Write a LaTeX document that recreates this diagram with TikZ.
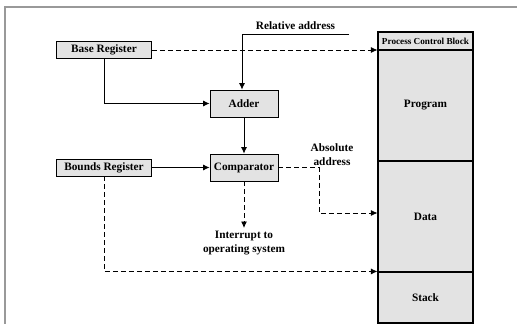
\documentclass[tikz,border=0pt]{standalone}
\usepackage{fontspec}
\setmainfont{Liberation Serif}
\usetikzlibrary{arrows.meta}
\begin{document}
\begin{tikzpicture}[x=1pt,y=-1pt,>={Latex[length=6.5pt,width=6pt]},font=\fontsize{11.3}{14}\selectfont\bfseries]
\tikzset{
  regbox/.style={draw,thick,fill=black!11,minimum width=95pt,minimum height=17pt,inner sep=0pt},
  unitbox/.style={draw,thick,fill=black!11,minimum width=68pt,minimum height=27pt,inner sep=0pt},
  pcbpart/.style={draw,line width=1.1pt,fill=black!11,minimum width=95pt,inner sep=0pt},
  dsh/.style={dash pattern=on 5pt off 3pt,thick},
  conn/.style={->,thick}
}
\useasboundingbox (0,0) rectangle (517,324);
\draw[black!40,line width=1.5pt] (5,324) -- (5,7) -- (517,7);
% registers and units
\node[regbox] (base) at (104,50) {Base Register};
\node[regbox] (bounds) at (104,167.5) {Bounds Register};
\node[unitbox] (adder) at (244,103.5) {Adder};
\node[unitbox] (comp) at (244,167.5) {Comparator};
% process control block
\node[pcbpart,minimum height=18pt,font=\fontsize{9.2}{11}\selectfont\bfseries] (pcb) at (425.5,41) {Process Control Block};
\node[pcbpart,minimum height=111pt] (program) at (425.5,105.5) {Program};
\node[pcbpart,minimum height=111pt] (data) at (425.5,216.5) {Data};
\node[pcbpart,minimum height=51pt] (stack) at (425.5,297.5) {Stack};
% labels
\coordinate (relend) at (349,34);
\coordinate (absbend) at (319,213);
\node[align=center] (abslbl) at (332,155) {Absolute\\address};
\node[align=center,anchor=north] (intr) at (244,228) {Interrupt to\\operating system};
% connectors
\draw[conn] (relend) -| node[pos=0.25,above=1pt]{Relative address} ([xshift=-2pt]adder.north);
\draw[conn] (base.south) |- (adder.west);
\draw[conn] (adder.south) -- (comp.north);
\draw[conn] (bounds.east) -- (comp.west);
\draw[dsh,->] (base.east) -- (base.east -| program.west);
\draw[dsh,->] (comp.east) -| (absbend) -- (absbend -| data.west);
\draw[dsh,->] (comp.south) -- (intr.north);
\draw[dsh,->] (bounds.south) |- (stack.north west);
\end{tikzpicture}
\end{document}
